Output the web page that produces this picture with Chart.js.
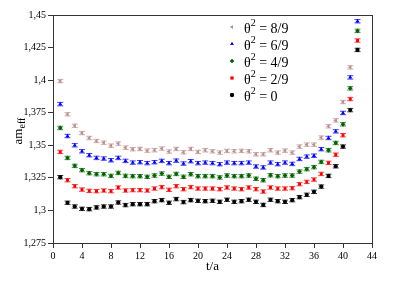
<!DOCTYPE html>
<html><head><meta charset="utf-8">
<script src="https://cdn.jsdelivr.net/npm/chart.js@4/dist/chart.umd.min.js"></script>
<style>html,body{margin:0;padding:0;background:#fff}#wrap{width:410px;height:289px}</style>
</head><body><div id="wrap"><canvas id="c" width="410" height="289"></canvas></div>
<script>
const tValues = [1,2,3,4,5,6,7,8,9,10,11,12,13,14,15,16,17,18,19,20,21,22,23,24,25,26,27,28,29,30,31,32,33,34,35,36,37,38,39,40,41,42];
const theta89 = [1.3993,1.3738,1.365,1.3594,1.3556,1.3533,1.352,1.3497,1.3513,1.3482,1.347,1.3472,1.3459,1.3462,1.3475,1.3452,1.3472,1.3446,1.3472,1.3449,1.3462,1.3454,1.3444,1.3457,1.3454,1.3457,1.3454,1.3431,1.3431,1.3462,1.3444,1.3459,1.3444,1.349,1.3505,1.3505,1.3559,1.3646,1.3691,1.3832,1.4098,null];
const theta69 = [1.3816,1.3571,1.35,1.3454,1.3424,1.3403,1.3398,1.3385,1.3403,1.338,1.3367,1.337,1.3363,1.337,1.338,1.3363,1.3382,1.336,1.3378,1.3363,1.3367,1.3363,1.3355,1.3367,1.3363,1.3363,1.3367,1.3337,1.333,1.3367,1.3355,1.3367,1.3357,1.3395,1.3413,1.342,1.347,1.3556,1.3607,1.3748,1.4021,1.4452];
const theta49 = [1.3633,1.3403,1.3342,1.3309,1.3286,1.3278,1.3278,1.3265,1.3288,1.3265,1.3263,1.3263,1.3258,1.3268,1.3283,1.3258,1.328,1.3258,1.3278,1.3263,1.3263,1.3263,1.3253,1.3268,1.3263,1.3263,1.3268,1.3243,1.3232,1.327,1.3263,1.3268,1.3268,1.3298,1.3317,1.3332,1.3372,1.3462,1.3518,1.3661,1.3937,1.4378];
const theta29 = [1.3449,1.3232,1.3186,1.316,1.315,1.3148,1.3153,1.3148,1.3176,1.3153,1.3156,1.3156,1.3153,1.3168,1.3179,1.3158,1.3186,1.3163,1.3179,1.3168,1.3168,1.3168,1.3163,1.3176,1.3168,1.3163,1.3176,1.3163,1.3145,1.3176,1.3168,1.3168,1.3171,1.3202,1.3219,1.3237,1.328,1.3365,1.3428,1.3577,1.3855,1.4304];
const theta0 = [1.3255,1.3059,1.303,1.3012,1.301,1.3023,1.303,1.303,1.3061,1.3041,1.3048,1.3048,1.3048,1.3071,1.3079,1.3059,1.3087,1.3064,1.3079,1.3074,1.3071,1.3074,1.3066,1.3082,1.3066,1.3071,1.3082,1.3066,1.3042,1.3082,1.3071,1.3066,1.3079,1.3102,1.312,1.3143,1.3183,1.3265,1.3339,1.349,1.377,1.4232];
const seriesLabels = ['θ² = 8/9','θ² = 6/9','θ² = 4/9','θ² = 2/9','θ² = 0'];
const seriesErrors = [0.0013,0.0013,0.0013,0.0013,0.0013];
const yTickLabels = ['1,275','1,3','1,325','1,35','1,375','1,4','1,425','1,45'];
const xTickLabels = ['0','4','8','12','16','20','24','28','32','36','40','44'];

const serif = "'Liberation Serif','DejaVu Serif',serif";
const colors = ['#bc8f8f','#0000ff','#006400','#ff0000','#000000'];
const styles = ['triangle','triangle','rectRot','rect','circle'];
const rotations = [-90,0,0,0,0];
const radii = [2.4,2.4,2.4,2.1,2.1];
const allSeries = [theta89,theta69,theta49,theta29,theta0];

const datasets = allSeries.map((vals,i)=>({
  label: seriesLabels[i],
  data: tValues.map((t,j)=>({x:t,y:vals[j]})).filter(p=>p.y!==null),
  showLine:false,
  pointStyle: styles[i],
  rotation: rotations[i],
  pointRadius: radii[i],
  backgroundColor: colors[i],
  borderColor: colors[i],
  borderWidth: 0,
  errVal: seriesErrors[i]
}));

const errorBars = {
  id:'errorBars',
  afterDatasetsDraw(chart){
    const ctx=chart.ctx, ys=chart.scales.y, xs=chart.scales.x;
    ctx.save();
    chart.data.datasets.forEach((ds,i)=>{
      ctx.strokeStyle=ds.borderColor; ctx.lineWidth=1; ctx.globalAlpha=0.75;
      ds.data.forEach(p=>{
        const x=xs.getPixelForValue(p.x);
        const y1=ys.getPixelForValue(p.y-ds.errVal), y2=ys.getPixelForValue(p.y+ds.errVal);
        ctx.beginPath();
        ctx.moveTo(x,y1);ctx.lineTo(x,y2);
        ctx.moveTo(x-3,y1);ctx.lineTo(x+3,y1);
        ctx.moveTo(x-3,y2);ctx.lineTo(x+3,y2);
        ctx.stroke();
      });
    });
    ctx.restore();
  }
};

const decor = {
  id:'decor',
  afterDraw(chart){
    const ctx=chart.ctx, a=chart.chartArea;
    ctx.save();
    ctx.strokeStyle='#333'; ctx.lineWidth=1;
    ctx.strokeRect(Math.round(a.left)+0.5,Math.round(a.top)+0.5,Math.round(a.right-a.left),Math.round(a.bottom-a.top));
    // legend
    ctx.textBaseline='alphabetic';
    chart.data.datasets.forEach((ds,i)=>{
      const y=28+i*17;
      ctx.fillStyle=ds.backgroundColor;
      ctx.beginPath();
      Chart.helpers.drawPoint(ctx,{pointStyle:ds.pointStyle,rotation:ds.rotation,radius:2,borderWidth:0},232,y-1);
      ctx.fill();
      ctx.fillStyle='#000';
      ctx.textAlign='left';
      const parts=ds.label.split('²');
      let x=244;
      ctx.font='14px '+serif;
      ctx.fillText(parts[0],x,y+5); x+=ctx.measureText(parts[0]).width;
      ctx.font='10px '+serif;
      ctx.fillText('2',x,y-2); x+=ctx.measureText('2').width;
      ctx.font='14px '+serif;
      ctx.fillText(parts[1],x,y+5);
    });
    // axis titles
    ctx.font='13px '+serif;
    ctx.textAlign='center';
    ctx.fillText('t/a',(a.left+a.right)/2,270);
    ctx.translate(22,131);
    ctx.rotate(-Math.PI/2);
    ctx.textAlign='left';
    const w1=ctx.measureText('am').width;
    ctx.font='10px '+serif;
    const w2=ctx.measureText('eff').width;
    const start=-(w1+w2)/2;
    ctx.font='13px '+serif;
    ctx.fillText('am',start,0);
    ctx.font='10px '+serif;
    ctx.fillText('eff',start+w1,3);
    ctx.restore();
  }
};

new Chart(document.getElementById('c'),{
  type:'scatter',
  data:{datasets},
  plugins:[errorBars,decor],
  options:{
    responsive:false,animation:false,
    layout:{padding:{left:0,right:38,top:15,bottom:0}},
    plugins:{legend:{display:false},tooltip:{enabled:false}},
    scales:{
      x:{type:'linear',min:0,max:44,
        afterFit(s){s.height=46;},
        afterBuildTicks(s){s.ticks=xTickLabels.map(v=>({value:Number(v)}));},
        ticks:{color:'#000',font:{family:serif,size:10},padding:2,maxRotation:0,callback:(v,i)=>xTickLabels[i]},
        grid:{display:true,drawOnChartArea:false,tickLength:5,color:'#333',tickColor:'#333'},
        border:{color:'#333',width:1}
      },
      y:{type:'linear',min:1.275,max:1.45,
        afterFit(s){s.width=53;},
        afterBuildTicks(s){s.ticks=yTickLabels.map(v=>({value:Number(v.replace(',','.'))}));},
        ticks:{color:'#000',font:{family:serif,size:10},padding:2,callback:(v,i)=>yTickLabels[i]},
        grid:{display:true,drawOnChartArea:false,tickLength:5,color:'#333',tickColor:'#333'},
        border:{color:'#333',width:1}
      }
    }
  }
});
</script></body></html>
